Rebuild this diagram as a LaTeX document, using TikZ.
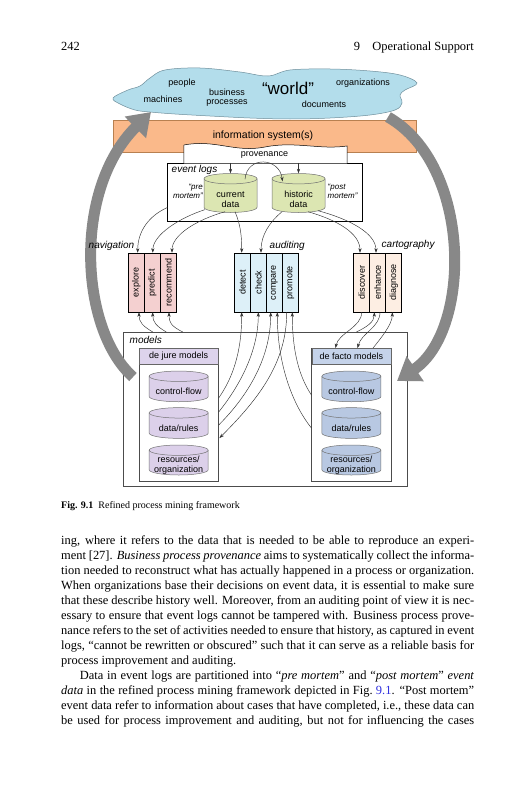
\documentclass[tikz,border=0pt]{standalone}
\usepackage{fontspec}
\setmainfont{Liberation Serif}
\newfontfamily\dsans{Liberation Sans}
\usetikzlibrary{arrows.meta,calc}
\definecolor{cloudfill}{HTML}{B3DDEB}
\definecolor{cloudline}{HTML}{6F8F9C}
\definecolor{orangefill}{HTML}{FAB98A}
\definecolor{orangeline}{HTML}{B88050}
\definecolor{bigarrow}{HTML}{888888}
\definecolor{dbgreen}{HTML}{DCE6B2}
\definecolor{navfill}{HTML}{F4D0D0}
\definecolor{audfill}{HTML}{DDF0F8}
\definecolor{carfill}{HTML}{FDEEE3}
\definecolor{djhead}{HTML}{DDD3EC}
\definecolor{djcyl}{HTML}{DCD0EA}
\definecolor{dfhead}{HTML}{C5D3EA}
\definecolor{dfcyl}{HTML}{B8C8E2}
\definecolor{linkblue}{HTML}{2F2FE0}
\newcommand\dfont{\dsans\fontsize{9}{10.5}\selectfont}
\newcommand\dbcyl[8]{%
  \pgfmathsetmacro\rx{#4/2}%
  \pgfmathsetmacro\ry{5.2}%
  \pgfmathsetmacro\xl{#2-\rx}%
  \pgfmathsetmacro\xr{#2+\rx}%
  \pgfmathsetmacro\yt{#3-#5/2+\ry}%
  \pgfmathsetmacro\yb{#3+#5/2-\ry}%
  \filldraw[cylline, fill=#6] (\xl,\yt) -- (\xl,\yb) arc[start angle=180,end angle=360,x radius=\rx pt,y radius=\ry pt] -- (\xr,\yt) arc[start angle=0,end angle=180,x radius=\rx pt,y radius=\ry pt] -- cycle;
  \draw[cylline] (\xl,\yt) arc[start angle=180,end angle=360,x radius=\rx pt,y radius=\ry pt];
  \node[inner sep=0, minimum width=#4, minimum height=#5] (#1) at (#2,#3) {};
  \node[cyltext] (#1-t) at (#2,{#3+#8}) {#7};
}
\newcommand\jline[3]{\node[bodytext] (#1) at (61,#2) {\makebox[413pt][s]{#3}};}
\tikzset{
  cylline/.style={draw=black!55, line width=0.5pt},
  cyltext/.style={inner sep=0, align=center, font=\dfont},
  colbox/.style={draw=black, line width=0.5pt, minimum width=16, minimum height=59, inner sep=0, font=\dsans\fontsize{9}{9}\selectfont},
  framebox/.style={draw=black, line width=0.7pt, inner sep=0},
  headbox/.style={draw=black!60, line width=0.5pt, minimum width=80, minimum height=17, inner sep=0, font=\dfont},
  conn/.style={draw=black!80, line width=0.45pt},
  arr/.style={conn, -{Stealth[length=4.5pt,width=3.2pt]}},
  bigarr/.style={draw=bigarrow, line width=11pt, -{Triangle[width=29pt,length=22pt]}},
  itlabel/.style={inner sep=0, font=\dsans\itshape\fontsize{10}{11}\selectfont},
  smallit/.style={inner sep=0, align=right, font=\dsans\itshape\fontsize{8}{9.5}\selectfont},
  cloudtxt/.style={inner sep=0, font=\dfont},
  bodytext/.style={anchor=base west, inner sep=0, font=\fontsize{12.45}{15}\selectfont},
}
\begin{document}
\begin{tikzpicture}[x=1pt,y=-1pt]
\useasboundingbox[fill=white] (0,0) rectangle (527,800);

% header
\node[bodytext] (pageno) at (61,51) {242};
\node[bodytext, anchor=base east] (runhead) at (474,51) {9\quad Operational Support};

% cloud
\draw[cloudline, fill=cloudfill, line width=0.5pt] plot[smooth cycle, tension=0.6] coordinates {
 (113,98) (128,90) (140,86) (150,78) (165,70) (200,68) (240,72) (268,76) (290,70) (330,69)
 (370,71) (400,75) (417,83) (405,90) (400,95) (402,103) (395,110) (370,115) (330,118)
 (290,119) (250,118) (210,116) (175,114) (150,112) (135,110) (120,104)};
\node[cloudtxt] (people) at (182,83) {people};
\node[cloudtxt] (machines) at (163,99) {machines};
\node[cloudtxt] (business) at (227,92) {business};
\node[cloudtxt] (processes) at (227,103) {processes};
\node[inner sep=0, font=\dsans\fontsize{17}{18}\selectfont] (world) at (288,88) {“world”};
\node[cloudtxt] (orgs) at (363,83) {organizations};
\node[cloudtxt] (docs) at (324,104) {documents};

% information system
\node[draw=orangeline, fill=orangefill, line width=0.5pt, minimum width=303, minimum height=32, inner sep=0] (infosys) at (264.5,136) {};
\node[inner sep=0, font=\dsans\fontsize{10.5}{12}\selectfont] (infotxt) at (263,136) {information system(s)};

% event logs
\node[framebox, minimum width=195, minimum height=58] (evlogs) at (265.2,192.2) {};
\node[inner sep=0, minimum width=163, minimum height=19] (prov) at (265.5,153.7) {};
\draw[black, line width=0.5pt, fill=white] (prov.south west) -- (184,145) .. controls (215,139) and (235,153) .. (265,147) .. controls (295,141) and (320,150) .. (347,146) -- (prov.south east);
\node[inner sep=0, font=\dfont] (provtxt) at (264.5,155) {provenance};
\node[itlabel, anchor=base west] (evlab) at (171.5,172.3) {event logs};
\dbcyl{cur}{230.5}{193}{53}{39}{dbgreen}{current\\data}{6.5}
\dbcyl{hist}{298.5}{193}{53}{39}{dbgreen}{historic\\data}{6.5}
\node[smallit, anchor=base east] (pre) at (203,189) {“pre};
\node[smallit, anchor=base east] (prem) at (203,198.5) {mortem”};
\node[smallit, anchor=base west] (post) at (327.5,189) {“post};
\node[smallit, anchor=base west] (postm) at (327.5,198.5) {mortem”};

\draw[arr] (cur.north |- evlogs.north) -- (cur.north);
\draw[arr] (hist.north |- evlogs.north) -- (hist.north);
\draw[arr] ($(cur.north)+(14.5,6)$) .. controls +(2,-24) and +(-3,-24) .. ($(hist.north)+(-16,8)$);

% models frames
\node[draw=black!70, line width=0.9pt, minimum width=284, minimum height=154, inner sep=0] (models) at (265.3,409.5) {};
\node[draw=black!70, line width=0.6pt, minimum width=79.3, minimum height=132.7, inner sep=0] (dejure) at (178.7,414.7) {};
\node[headbox, minimum width=79.3, minimum height=16, fill=djhead] (djh) at (178.7,356.3) {de jure models};
\node[draw=black!70, line width=0.6pt, minimum width=79.3, minimum height=132.7, inner sep=0] (defacto) at (351.4,414.7) {};
\node[headbox, minimum width=79.3, minimum height=16, fill=dfhead] (dfh) at (351.4,356.3) {de facto models};
\dbcyl{djcf}{178.7}{386.4}{59}{30.7}{djcyl}{control-flow}{4.8}
\dbcyl{djdr}{178.7}{423}{59}{30.7}{djcyl}{data/rules}{4.8}
\dbcyl{djro}{178.7}{460}{59}{30}{djcyl}{resources/\\organization}{5.3}
\dbcyl{dfcf}{351.4}{386.4}{59}{30.7}{dfcyl}{control-flow}{4.8}
\dbcyl{dfdr}{351.4}{423}{59}{30.7}{dfcyl}{data/rules}{4.8}
\dbcyl{dfro}{351.4}{460}{59}{30}{dfcyl}{resources/\\organization}{5.3}

% big grey arrows
\coordinate (bl0) at (133,377);
\coordinate (bl1) at (151,112);
\coordinate (br0) at (388,117);
\coordinate (br1) at (397,381);
\draw[bigarr] (bl0) .. controls (80,330) and (72,190) .. (bl1);
\draw[bigarr] (br0) .. controls (472,165) and (472,330) .. (br1);

\node[itlabel, anchor=base west] (modlab) at (129.5,343) {models};

% columns
\node[colbox, fill=navfill] (explore) at (136.3,282.5) {\rotatebox{90}{explore}};
\node[colbox, fill=navfill] (predict) at (152.3,282.5) {\rotatebox{90}{predict}};
\node[colbox, fill=navfill] (recommend) at (168.5,282.5) {\rotatebox{90}{recommend}};
\node[colbox, fill=audfill] (detect) at (242.3,282.5) {\rotatebox{90}{detect}};
\node[colbox, fill=audfill] (check) at (258.3,282.5) {\rotatebox{90}{check}};
\node[colbox, fill=audfill] (compare) at (274.3,282.5) {\rotatebox{90}{compare}};
\node[colbox, fill=audfill] (promote) at (290.3,282.5) {\rotatebox{90}{promote}};
\node[colbox, fill=carfill] (discover) at (361.7,282.5) {\rotatebox{90}{discover}};
\node[colbox, fill=carfill] (enhance) at (377.7,282.5) {\rotatebox{90}{enhance}};
\node[colbox, fill=carfill] (diagnose) at (393.7,282.5) {\rotatebox{90}{diagnose}};
\node[itlabel, anchor=base east] (navlab) at (134.5,248.3) {navigation};
\node[itlabel, anchor=base west] (audlab) at (269.5,248.3) {auditing};
\node[itlabel, anchor=base west] (carlab) at (381.5,247) {cartography};

% event data -> columns
\draw[arr] ($(evlogs.south west)+(0,-14)$) .. controls +(-18,8) and +(0,-22) .. ([xshift=1.4pt]explore.north);
\draw[arr] ($(cur.south west)+(1,-3)$) .. controls +(-25,8) and +(0,-18) .. ([xshift=0.5pt]predict.north);
\draw[arr] ($(cur.south)+(-5.5,-1)$) .. controls +(-28,8) and +(0,-18) .. ([xshift=3.5pt]recommend.north);
\draw[arr] ($(cur.south)+(4.5,-1)$) .. controls +(6,14) and +(0,-15) .. ([xshift=-0.6pt]detect.north);
\draw[arr] ($(hist.south)+(-16.5,-1)$) .. controls +(-12,10) and +(0,-18) .. ([xshift=2.7pt]check.north);
\draw[arr] ($(hist.south)+(9.5,-1)$) .. controls +(28,8) and +(0,-20) .. ([xshift=-1.7pt]discover.north);
\draw[arr] ($(hist.south)+(19.5,-2)$) .. controls +(30,8) and +(0,-20) .. ([xshift=-1.7pt]enhance.north);

% models -> navigation
\coordinate (m1) at ($(models.north west)+(30,0)$);
\coordinate (m2) at ($(models.north west)+(43.5,0)$);
\coordinate (m3) at ($(models.north west)+(60,0)$);
\draw[arr] (m1) .. controls +(-10,-6) and +(0,10) .. ([xshift=2.7pt]explore.south);
\draw[arr] (m2) .. controls +(-10,-6) and +(0,10) .. ([xshift=0.4pt]predict.south);
\draw[arr] (m3) .. controls +(-12,-6) and +(0,10) .. ([xshift=0.5pt]recommend.south);

% models <-> auditing
\coordinate (dj1) at ($(dejure.north east)+(0,50)$);
\coordinate (dj2) at ($(dejure.north east)+(0,64)$);
\coordinate (dj3) at ($(dejure.north east)+(0,77)$);
\coordinate (dj4) at ($(dejure.north east)+(0.8,90)$);
\coordinate (df1) at ($(defacto.north west)+(0,47)$);
\coordinate (df2) at ($(defacto.north west)+(0,80)$);
\draw[arr] (dj1) .. controls +(14,-20) and +(0,40) .. ([xshift=-0.6pt]detect.south);
\draw[arr] (dj2) .. controls +(20,-25) and +(0,40) .. (check.south);
\draw[arr] (dj3) .. controls +(30,-30) and +(0,45) .. ([xshift=-3.6pt]compare.south);
\draw[arr] ([xshift=-3.6pt]promote.south) .. controls +(0,50) and +(40,-40) .. (dj4);
\draw[arr] (df2) .. controls +(-20,-25) and +(0,50) .. ([xshift=3pt]compare.south);
\draw[arr] (df1) .. controls +(-12,-18) and +(0,40) .. ([xshift=2pt]promote.south);

% models <-> cartography
\coordinate (e0) at ($(models.north west)+(233.5,0)$);
\draw[arr] (discover.south) .. controls +(0,15) and +(3,-15) .. ($(dfh.north west)+(24,0)$);
\draw[arr] (e0) .. controls +(10,-5) and +(0,10) .. ([xshift=-3.4pt]enhance.south);
\draw[arr] ([xshift=2.3pt]enhance.south) .. controls +(0,15) and +(4,-15) .. ($(dfh.north west)+(46,0)$);
\draw[arr] ($(dfh.north west)+(61.5,0)$) .. controls +(8,-10) and +(0,12) .. ([xshift=-1.4pt]diagnose.south);

% caption
\node[bodytext, font=\fontsize{10}{12}\selectfont] (caption) at (61,508) {\textbf{Fig. 9.1}\enspace Refined process mining framework};

% body text
\jline{l1}{544}{ing, where it refers to the data that is needed to be able to reproduce an experi-}
\jline{l2}{559}{ment [27]. \textit{Business process provenance} aims to systematically collect the informa-}
\jline{l3}{574}{tion needed to reconstruct what has actually happened in a process or organization.}
\jline{l4}{589}{When organizations base their decisions on event data, it is essential to make sure}
\jline{l5}{604}{that these describe history well. Moreover, from an auditing point of view it is nec-}
\jline{l6}{619}{essary to ensure that event logs cannot be tampered with. Business process prove-}
\jline{l7}{634}{nance refers to the set of activities needed to ensure that history, as captured in event}
\jline{l8}{649}{logs, “cannot be rewritten or obscured” such that it can serve as a reliable basis for}
\node[bodytext] (l9) at (61,664) {process improvement and auditing.};
\node[bodytext] (l10) at (79.7,679) {\makebox[394.3pt][s]{Data in event logs are partitioned into “\textit{pre mortem}” and “\textit{post mortem}” \textit{event}}};
\jline{l11}{694}{\textit{data} in the refined process mining framework depicted in Fig.~\textcolor{linkblue}{9.1}. “Post mortem”}
\jline{l12}{709}{event data refer to information about cases that have completed, i.e., these data can}
\jline{l13}{724}{be used for process improvement and auditing, but not for influencing the cases}
\end{tikzpicture}
\end{document}
